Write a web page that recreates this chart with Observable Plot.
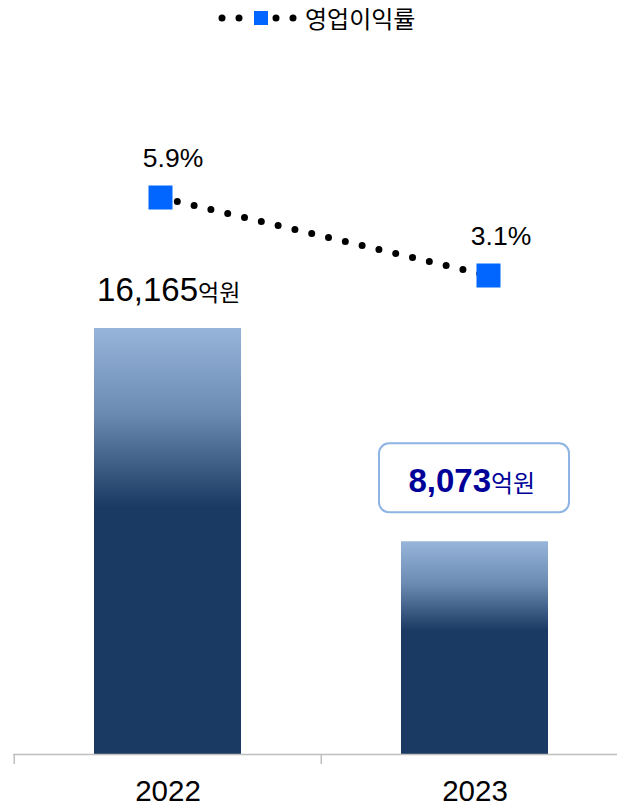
<!DOCTYPE html>
<html><head><meta charset="utf-8">
<script src="https://cdn.jsdelivr.net/npm/d3@7"></script>
<script src="https://cdn.jsdelivr.net/npm/@observablehq/plot@0.6"></script>
<style>
body{margin:0;background:#fff;font-family:"Liberation Sans",Arial,"Noto Sans CJK KR",sans-serif;}
#wrap{position:relative;width:617px;height:806px;overflow:hidden;}
#legend{position:absolute;left:0;top:0;width:617px;height:40px;}
#chart{position:absolute;left:0;top:40px;width:617px;height:766px;}
#chart svg{position:absolute;left:0;top:0;}
</style></head><body>
<div id="wrap"><div id="legend"></div><div id="chart"></div></div>
<script>
const years = ["2022", "2023"];
const revenue = [16165, 8073];
const margin = [5.9, 3.1];
const revenueLabels = ["16,165", "8,073"];
const marginLabels = ["5.9%", "3.1%"];
const unit = "억원";
const legendLabel = "영업이익률";
const highlight = [false, true];

const data = years.map((year, i) => ({
  year, revenue: revenue[i], margin: margin[i],
  label: revenueLabels[i], pct: marginLabels[i], hi: highlight[i]
}));
const plain = data.filter(d => !d.hi);
const boxed = data.filter(d => d.hi);

const font = '"Liberation Sans",Arial,"Noto Sans CJK KR",sans-serif';
const W = 617, H = 766;
const xRange = [13, 628];
const step = (xRange[1] - xRange[0]) / years.length;

const bars = Plot.plot({
  width: W, height: H,
  marginLeft: 13, marginRight: 0, marginTop: 0, marginBottom: 52,
  style: {fontFamily: font, background: "transparent", overflow: "visible"},
  x: {domain: years, range: xRange, padding: 0, axis: null, label: null},
  y: {domain: [0, d3.max(revenue)], range: [714, 288], axis: null},
  marks: [
    Plot.barY(data, {x: "year", y: "revenue", fill: "url(#barGrad)", insetLeft: 80, insetRight: 80}),
    Plot.ruleY([0], {stroke: "#BFBFBF", strokeWidth: 1.5}),
    Plot.axisX({tickSize: 10, dx: -step / 2, tickFormat: () => "", label: null, stroke: "#BFBFBF", strokeWidth: 1.5}),
    Plot.text(data, {x: "year", y: 0, text: "year", dy: 46.5, lineAnchor: "bottom", fontSize: 29.5, fill: "#000"}),
    Plot.text(plain, {x: "year", y: "revenue", text: "label", textAnchor: "end", dx: 30, dy: -28, lineAnchor: "bottom", fontSize: 33, fill: "#000"}),
    Plot.text(plain, {x: "year", y: "revenue", text: () => unit, textAnchor: "start", dx: 30, dy: -28, lineAnchor: "bottom", fontSize: 23, fill: "#000"}),
    Plot.barY(boxed, {x: "year", y1: "revenue", y2: "revenue", insetLeft: 58, insetRight: 59, insetTop: -98, insetBottom: 29, fill: "#fff", stroke: "#8DB4E2", strokeWidth: 2, rx: 10}),
    Plot.text(boxed, {x: "year", y: "revenue", text: "label", textAnchor: "end", dx: 16, dy: -50, lineAnchor: "bottom", fontSize: 33, fontWeight: "bold", fill: "#000099"}),
    Plot.text(boxed, {x: "year", y: "revenue", text: () => unit, textAnchor: "start", dx: 16, dy: -50, lineAnchor: "bottom", fontSize: 24, fill: "#000099"})
  ]
});
d3.select(bars).insert("defs", ":first-child").html(`
  <linearGradient id="barGrad" x1="0" y1="0" x2="0" y2="1">
    <stop offset="0" stop-color="#97B5DA"/>
    <stop offset="0.2" stop-color="#6B8BB3"/>
    <stop offset="0.42" stop-color="#1B3A63"/>
    <stop offset="1" stop-color="#1B3A63"/>
  </linearGradient>`);

const lineChart = Plot.plot({
  width: W, height: H, margin: 0,
  style: {fontFamily: font, background: "transparent", overflow: "visible"},
  x: {type: "point", domain: years, range: [160, 488], padding: 0, axis: null},
  y: {domain: [3.1, 5.9], range: [235, 157], axis: null},
  marks: [
    Plot.line(data, {x: "year", y: "margin", stroke: "#000", strokeWidth: 7, strokeDasharray: "0 17.27", strokeLinecap: "round"}),
    Plot.dot(data, {x: "year", y: "margin", symbol: "square", r: 13.54, fill: "#0066FF", stroke: "none"}),
    Plot.text(data, {x: "year", y: "margin", text: "pct", dx: 12.5, dy: -31, lineAnchor: "bottom", fontSize: 26.5, fill: "#000"})
  ]
});

document.getElementById("chart").append(bars, lineChart);

// legend
const lg = d3.select("#legend").append("svg").attr("width", 617).attr("height", 40);
[222, 239, 276, 293].forEach(cx => lg.append("circle").attr("cx", cx).attr("cy", 18).attr("r", 3.5).attr("fill", "#000"));
lg.append("rect").attr("x", 254).attr("y", 11).attr("width", 14).attr("height", 14).attr("fill", "#0066FF");
lg.append("text").attr("x", 305).attr("y", 28).attr("font-size", 24).attr("font-family", '"Noto Sans CJK KR",sans-serif').attr("fill", "#000").text(legendLabel);
</script>
</body></html>
